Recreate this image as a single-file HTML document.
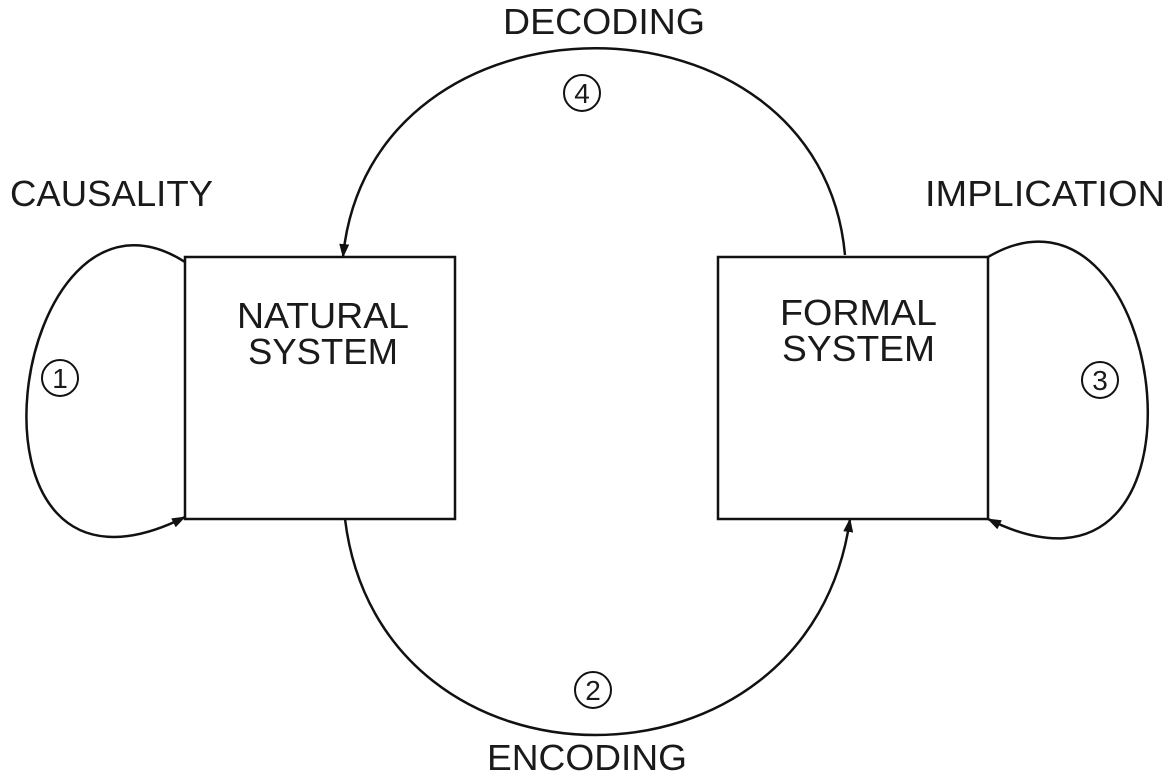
<!DOCTYPE html>
<html><head><style>
html,body{margin:0;padding:0;background:#fff;}
svg{display:block;}
text{font-family:"Liberation Sans",sans-serif;fill:#1a1a1a;}
</style></head><body>
<svg width="1170" height="778" viewBox="0 0 1170 778" xmlns="http://www.w3.org/2000/svg">
<defs>
<marker id="a" markerWidth="14" markerHeight="10" refX="13" refY="5" orient="auto" markerUnits="userSpaceOnUse">
<path d="M0,0 L14,5 L0,10 Z" fill="#111"/>
</marker>
</defs>
<g fill="none" stroke="#111" stroke-width="2.5">
<rect x="185" y="257" width="270" height="262"/>
<rect x="718" y="257" width="270" height="262"/>
<path d="M845,255 C820,-21 370,-21 343,257" marker-end="url(#a)"/>
<path d="M345,519 C380,807 810,807 850,519" marker-end="url(#a)"/>
<path d="M185,262 C10,150 -60,640 185,517" marker-end="url(#a)"/>
<path d="M988,257 C1170,150 1230,640 988,519" marker-end="url(#a)"/>
</g>
<g font-size="36">
<text x="503" y="34" textLength="202" lengthAdjust="spacingAndGlyphs">DECODING</text>
<text x="10" y="206" textLength="203" lengthAdjust="spacingAndGlyphs">CAUSALITY</text>
<text x="925" y="206" textLength="240" lengthAdjust="spacingAndGlyphs">IMPLICATION</text>
<text x="487" y="770" textLength="200" lengthAdjust="spacingAndGlyphs">ENCODING</text>
<text x="237" y="328" textLength="172" lengthAdjust="spacingAndGlyphs">NATURAL</text>
<text x="248" y="364" textLength="150" lengthAdjust="spacingAndGlyphs">SYSTEM</text>
<text x="780" y="325" textLength="157" lengthAdjust="spacingAndGlyphs">FORMAL</text>
<text x="782" y="361" textLength="153" lengthAdjust="spacingAndGlyphs">SYSTEM</text>
</g>
<g fill="none" stroke="#111" stroke-width="2">
<circle cx="60" cy="378" r="18"/>
<circle cx="593" cy="690" r="18"/>
<circle cx="1100" cy="380" r="18"/>
<circle cx="582" cy="93" r="18"/>
</g>
<g font-size="28" text-anchor="middle">
<text x="60" y="388">1</text>
<text x="593" y="700">2</text>
<text x="1100" y="390">3</text>
<text x="582" y="103">4</text>
</g>
</svg>
</body></html>
